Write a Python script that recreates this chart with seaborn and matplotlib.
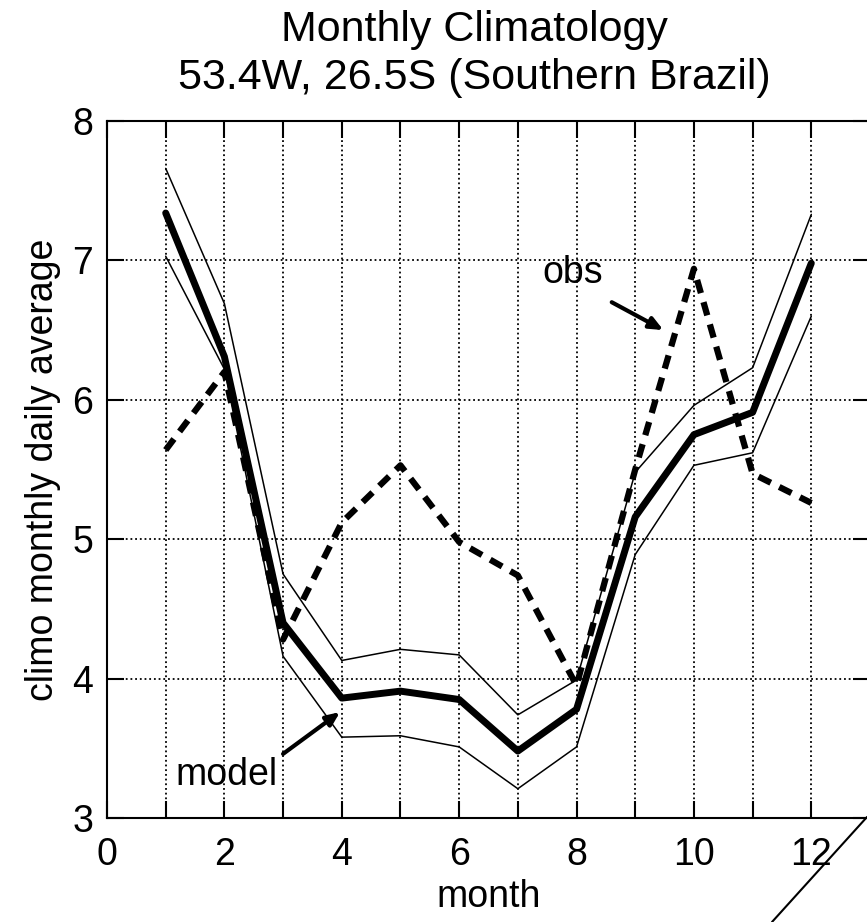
import matplotlib
matplotlib.use("Agg")
import matplotlib.pyplot as plt
import matplotlib.lines as mlines
from matplotlib.ticker import FixedLocator, FuncFormatter
import seaborn as sns
import pandas as pd

# values
months = [1, 2, 3, 4, 5, 6, 7, 8, 9, 10, 11, 12]
model_mean = [7.34, 6.31, 4.40, 3.86, 3.91, 3.85, 3.48, 3.78, 5.16, 5.75, 5.91, 6.98]
model_upper = [7.66, 6.69, 4.75, 4.13, 4.21, 4.17, 3.74, 3.99, 5.48, 5.96, 6.23, 7.33]
model_lower = [7.03, 6.22, 4.16, 3.58, 3.59, 3.51, 3.21, 3.51, 4.89, 5.53, 5.62, 6.60]
obs = [5.64, 6.20, 4.28, 5.12, 5.53, 4.98, 4.74, 3.95, 5.50, 6.94, 5.47, 5.26]

title_lines = ["Monthly Climatology", "53.4W, 26.5S (Southern Brazil)"]

df = pd.DataFrame({"month": months, "mean": model_mean, "upper": model_upper,
                   "lower": model_lower, "obs": obs})

sns.set_style("ticks")
plt.rcParams["font.family"] = ["Liberation Sans", "DejaVu Sans"]
plt.rcParams["text.color"] = "black"
plt.rcParams["axes.labelcolor"] = "black"
plt.rcParams["xtick.color"] = "black"
plt.rcParams["ytick.color"] = "black"

fig = plt.figure(figsize=(8.67, 9.22), dpi=100)
ax = fig.add_axes([107 / 867, 104 / 922, 763 / 867, 697 / 922])

# dotted grid behind the curves
ax.grid(True, which="major", color="black", linestyle=(0, (1, 1.6)), linewidth=1.3)
ax.set_axisbelow(True)

sns.lineplot(data=df, x="month", y="upper", color="black", linewidth=1.1, ax=ax)
sns.lineplot(data=df, x="month", y="lower", color="black", linewidth=1.1, ax=ax)
sns.lineplot(data=df, x="month", y="mean", color="black", linewidth=5, ax=ax)
sns.lineplot(data=df, x="month", y="obs", color="black", linewidth=4.5, ax=ax,
             linestyle=(0, (2.2, 1.5)))

ax.set_xlim(0, 13)
ax.set_ylim(3, 8)
ax.xaxis.set_major_locator(FixedLocator(range(0, 14)))
ax.xaxis.set_major_formatter(FuncFormatter(lambda v, p: f"{int(v)}" if int(v) % 2 == 0 and v <= 12 else ""))
ax.yaxis.set_major_locator(FixedLocator(range(3, 9)))
ax.tick_params(direction="in", length=12, width=1.5, top=True, right=True,
               labelsize=27, colors="black", pad=10)
ax.tick_params(axis="x", pad=14)
for s in ax.spines.values():
    s.set_linewidth(1.5)
    s.set_color("black")

ax.set_xlabel("month", fontsize=27, labelpad=4)
ax.set_ylabel("climo monthly daily average", fontsize=27, labelpad=8)

# annotations
arrow = dict(arrowstyle="-|>,head_length=0.8,head_width=0.35",
             color="black", lw=3, shrinkA=0, shrinkB=0)
ax.annotate("", xy=(9.48, 6.50), xytext=(8.6, 6.70), arrowprops=arrow)
ax.text(7.94, 6.91, "obs", fontsize=27, ha="center", va="center")
ax.annotate("", xy=(3.97, 3.76), xytext=(3.0, 3.46), arrowprops=arrow)
ax.text(2.04, 3.31, "model", fontsize=27, ha="center", va="center")

fig.text(474 / 867, 1 - 30 / 922, title_lines[0], fontsize=31, ha="center", va="center")
fig.text(474 / 867, 1 - 78 / 922, title_lines[1], fontsize=31, ha="center", va="center")

# stray diagonal stroke at the lower right corner of the original image
fig.add_artist(mlines.Line2D([867 / 867, 772 / 867], [1 - 817 / 922, 0.0],
                             color="black", linewidth=1.5))

fig.savefig("out.png", dpi=100)
